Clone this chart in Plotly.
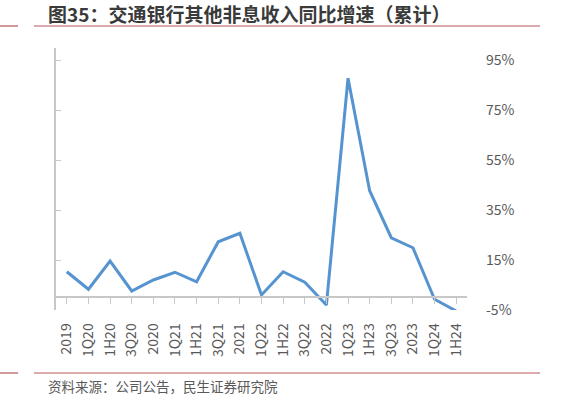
import plotly.graph_objects as go

categories = ["2019", "1Q20", "1H20", "3Q20", "2020", "1Q21", "1H21", "3Q21", "2021",
              "1Q22", "1H22", "3Q22", "2022", "1Q23", "1H23", "3Q23", "2023", "1Q24", "1H24"]
values = [10.3, 3.3, 14.6, 2.6, 7.0, 10.1, 6.3, 22.3, 25.7,
          1.0, 10.3, 6.1, -3.0, 87.7, 42.7, 23.9, 19.9, -0.7, -5.4]
ytick_vals = [-5, 15, 35, 55, 75, 95]
ytick_text = ["-5%", "15%", "35%", "55%", "75%", "95%"]

title_text = "图35：交通银行其他非息收入同比增速（累计）"
source_text = "资料来源：公司公告，民生证券研究院"

W, H = 561, 397
L, R, T, B = 56, 94, 48, 87
pw = W - L - R
ph = H - T - B


def px(x):
    return (x - L) / pw


def py(y):
    return (H - B - y) / ph


font_family = "Noto Sans CJK SC, Noto Sans, sans-serif"
axis_color = "#c8c8c8"
red = "#b5565a"

fig = go.Figure()
fig.add_trace(go.Scatter(
    x=list(range(len(categories))), y=values, mode="lines",
    line=dict(color="#5694d0", width=3), showlegend=False, cliponaxis=True,
))
fig.add_trace(go.Scatter(x=[0], y=[None], yaxis="y2", showlegend=False, hoverinfo="skip"))

fig.update_layout(
    width=W, height=H,
    margin=dict(l=L, r=R, t=T, b=B, pad=0),
    paper_bgcolor="white", plot_bgcolor="white",
    font=dict(family=font_family, color="#595959"),
    xaxis=dict(
        range=[-0.5, len(categories) - 0.5],
        tickmode="array", tickvals=list(range(len(categories))), ticktext=categories,
        tickangle=-90, tickfont=dict(size=14, color="#595959"),
        showgrid=False, zeroline=False,
        showline=True, linecolor=axis_color, linewidth=1.5,
        ticks="outside", ticklen=6, tickcolor=axis_color, tickwidth=1, tickson="boundaries",
        anchor="free", position=py(297),
        ticklabelstandoff=14,
    ),
    yaxis=dict(
        range=[-5, 99.8], side="right", tickmode="array",
        tickvals=ytick_vals, ticktext=ytick_text,
        tickfont=dict(size=14, color="#595959"),
        showgrid=False, zeroline=False, showline=False,
        ticks="", ticklabelstandoff=18,
    ),
    yaxis2=dict(
        range=[-5, 99.8], overlaying="y", side="left",
        tickmode="array", tickvals=ytick_vals, showticklabels=False,
        showgrid=False, zeroline=False,
        showline=True, linecolor=axis_color, linewidth=1.5,
        ticks="inside", ticklen=5, tickcolor=axis_color, tickwidth=1,
    ),
    annotations=[
        dict(text="<b>" + title_text + "</b>", x=px(46), y=py(14), xref="paper", yref="paper",
             xanchor="left", yanchor="middle", showarrow=False,
             font=dict(size=19, color="#3a3a3a", family=font_family)),
        dict(text=source_text, x=px(46), y=py(386), xref="paper", yref="paper",
             xanchor="left", yanchor="middle", showarrow=False,
             font=dict(size=13.5, color="#595959", family=font_family)),
    ],
    shapes=[
        dict(type="line", xref="paper", yref="paper", x0=px(0), x1=px(18), y0=py(26), y1=py(26),
             line=dict(color=red, width=1.2)),
        dict(type="line", xref="paper", yref="paper", x0=px(34), x1=px(540), y0=py(26), y1=py(26),
             line=dict(color=red, width=1.2)),
        dict(type="line", xref="paper", yref="paper", x0=px(0), x1=px(18), y0=py(373), y1=py(373),
             line=dict(color=red, width=1.2)),
        dict(type="line", xref="paper", yref="paper", x0=px(34), x1=px(540), y0=py(373), y1=py(373),
             line=dict(color=red, width=1.2)),
    ],
)

fig.write_html("out.html")
